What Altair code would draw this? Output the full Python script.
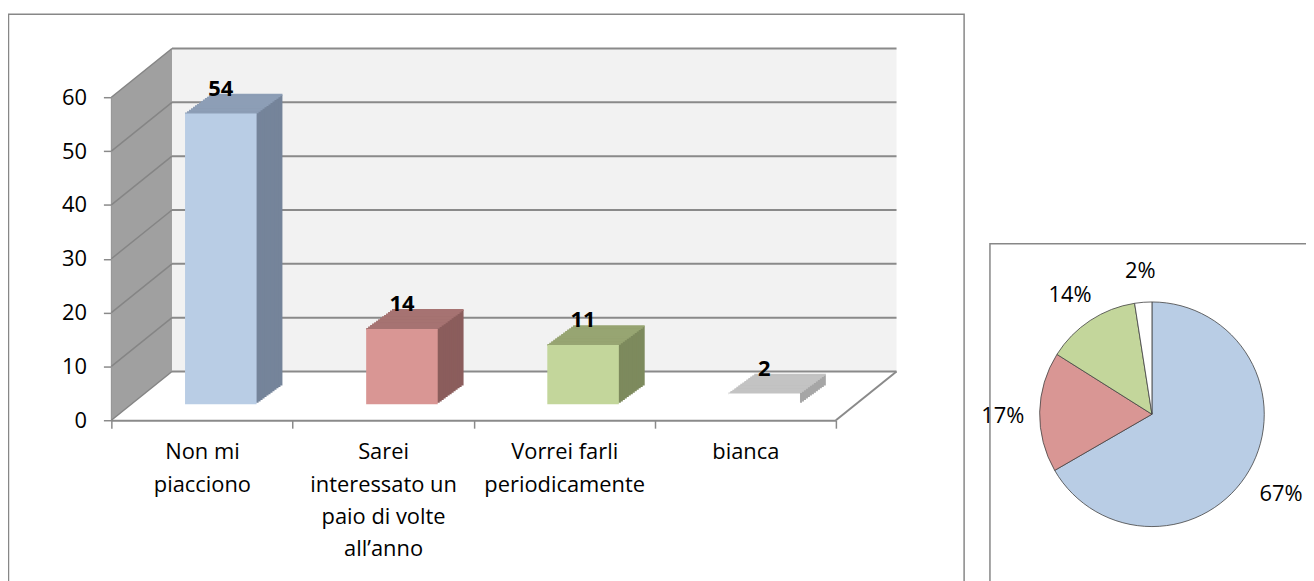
import altair as alt
import pandas as pd

# ---------------- data ----------------
categories = ["Non mi\npiacciono",
              "Sarei\ninteressato un\npaio di volte\nall\u2019anno",
              "Vorrei farli\nperiodicamente",
              "bianca"]
values = [54, 14, 11, 2]
front_colors = ["#b9cde5", "#d99694", "#c3d69b", "#ffffff"]
top_colors = ["#8d9eb6", "#a67372", "#97a572", "#c3c3c3"]
side_colors = ["#75849a", "#8b5d5c", "#7d8a5d", "#a6a6a6"]
pie_colors = ["#b9cde5", "#d99694", "#c3d69b", "#ffffff"]
y_ticks = [0, 10, 20, 30, 40, 50, 60]

# ---------------- layout (pixels, chart coordinates) ----------------
FONT = "Open Sans"
W, H = 1306, 573
X0, X1 = 104, 833          # front x-axis extent
Y0, YT = 413, 88           # front y-axis: 0 and 60
DX, DY = 61, -49           # depth of the 3D box
FX, FY = 19, -16           # depth of bar front faces
BX, BY = 26, -19           # depth of the bars
BAR_W = 72
N = 13
PIE_X, PIE_Y, PIE_R = 1151, 407, 113
GRID = "#8a8a8a"

df = pd.DataFrame({"cat": categories, "value": values, "front": front_colors,
                   "top": top_colors, "side": side_colors, "pie": pie_colors,
                   "idx": list(range(len(values)))})
one = pd.DataFrame({"a": [0]})
lv = pd.DataFrame({"v": y_ticks})

x_axis = alt.Axis(title=None, labelAngle=0, tickBand="extent", grid=False,
                  domainColor=GRID, domainWidth=2, tickColor=GRID, tickWidth=1.5,
                  tickSize=8, labelFont=FONT, labelFontSize=22, labelColor="#000000",
                  labelLineHeight=32.5, labelPadding=14, labelBaseline="top",
                  labelLimit=400, labelExpr="split(datum.label, '\\n')",
                  offset=-(H - Y0))
y_axis = alt.Axis(title=None, values=y_ticks, grid=False, domainColor=GRID,
                  domainWidth=2, tickColor=GRID, tickWidth=1.5, tickSize=8,
                  labelFont=FONT, labelFontSize=22, labelColor="#000000",
                  labelPadding=17, offset=-X0)
x_scale = alt.Scale(range=[X0, X1], paddingInner=0, paddingOuter=0)
y_scale = alt.Scale(domain=[0, 60], range=[Y0, YT], nice=False, zero=True)


def X():
    return alt.X("cat:N", sort=None, scale=x_scale, axis=x_axis)


def Yf(field):
    return alt.Y(field, scale=y_scale, axis=y_axis)


layers = []

# outer frame of the bar chart
layers.append(alt.Chart(one).mark_rect(fillOpacity=0, stroke="#878787", strokeWidth=1.5).encode(
    x=alt.value(0.5), x2=alt.value(962), y=alt.value(4.5), y2=alt.value(700)))

# back wall
layers.append(alt.Chart(one).mark_rect(color="#f2f2f2", yOffset=DY, y2Offset=DY).encode(
    x=alt.value(X0 + DX), x2=alt.value(X1 + DX),
    y=alt.Y(datum=0, scale=y_scale, axis=y_axis), y2=alt.Y2(datum=60)))

# side wall (parallelogram)
cx = X0 + DX / 2
top_y = Y0 + DY + (YT - Y0)  # back top
cy = (top_y + Y0) / 2
half = (Y0 - top_y) / 2
hx = (DX / 2) / half
ft = (YT - cy) / half
path = f"M {-hx:.4f} {ft:.4f} L {hx:.4f} -1 L {hx:.4f} {-ft:.4f} L {-hx:.4f} 1 Z"
layers.append(alt.Chart(one).mark_point(shape=path, filled=True, size=(2 * half) ** 2,
                                        color="#a0a0a0", opacity=1, strokeWidth=0).encode(
    x=alt.value(cx), y=alt.value(cy)))

# back wall gridlines
layers.append(alt.Chart(lv).mark_rule(color=GRID, strokeWidth=2, yOffset=DY).encode(
    x=alt.value(X0 + DX), x2=alt.value(X1 + DX), y=Yf("v:Q")))

# side wall gridlines
layers.append(alt.Chart(lv).mark_rule(color="#858585", strokeWidth=1.5, y2Offset=DY).encode(
    x=alt.value(X0), x2=alt.value(X0 + DX), y=Yf("v:Q"), y2=alt.Y2("v:Q")))

# floor right edge
layers.append(alt.Chart(one).mark_rule(color=GRID, strokeWidth=2, y2Offset=DY).encode(
    x=alt.value(X1), x2=alt.value(X1 + DX),
    y=alt.Y(datum=0, scale=y_scale, axis=y_axis), y2=alt.Y2(datum=0)))

# bar side extrusion
for k in range(N, 0, -1):
    ox = FX + BX * k / N
    oy = FY + BY * k / N
    layers.append(alt.Chart(df).mark_bar(size=BAR_W, xOffset=ox, yOffset=oy, y2Offset=oy).encode(
        x=X(), y=Yf("value:Q"), y2=alt.Y2(datum=0), fill=alt.Fill("side:N", scale=None)))

# bar top faces
for k in range(N, -1, -1):
    ox = FX + BX * k / N
    oy = FY + BY * k / N
    layers.append(alt.Chart(df).mark_tick(size=BAR_W, thickness=2, opacity=1,
                                          xOffset=ox, yOffset=oy).encode(
        x=X(), y=Yf("value:Q"), color=alt.Color("top:N", scale=None)))

# bar front faces
layers.append(alt.Chart(df).mark_bar(size=BAR_W, xOffset=FX, yOffset=FY, y2Offset=FY).encode(
    x=X(), y=Yf("value:Q"), y2=alt.Y2(datum=0), fill=alt.Fill("front:N", scale=None)))

# value labels
layers.append(alt.Chart(df).mark_text(dx=FX, dy=FY + BY + 1, baseline="alphabetic",
                                      fontWeight="bold", font=FONT, fontSize=22,
                                      color="#000000").encode(
    x=X(), y=Yf("value:Q"), text="value:Q"))

# pie frame
layers.append(alt.Chart(one).mark_rect(fillOpacity=0, stroke="#878787", strokeWidth=1.5).encode(
    x=alt.value(988), x2=alt.value(1400), y=alt.value(235.5), y2=alt.value(700)))

pie_base = alt.Chart(df).transform_joinaggregate(total="sum(value)").transform_calculate(
    pct="format(datum.value / datum.total, '.0%')")

layers.append(pie_base.mark_arc(outerRadius=PIE_R, stroke="#404040", strokeWidth=0.8).encode(
    theta=alt.Theta("value:Q", stack=True), order=alt.Order("idx:Q"),
    fill=alt.Fill("pie:N", scale=None), x=alt.value(PIE_X), y=alt.value(PIE_Y)))

layers.append(pie_base.mark_text(radius=150, dy=5, font=FONT, fontSize=22, color="#000000").encode(
    theta=alt.Theta("value:Q", stack=True), order=alt.Order("idx:Q"),
    text="pct:N", x=alt.value(PIE_X), y=alt.value(PIE_Y)))

chart = alt.layer(*layers).properties(
    width=W, height=H, padding=0,
    autosize=alt.AutoSizeParams(type="none"),
).configure_view(stroke=None)

chart.save("out.html", embed_options={"renderer": "svg", "actions": False})
